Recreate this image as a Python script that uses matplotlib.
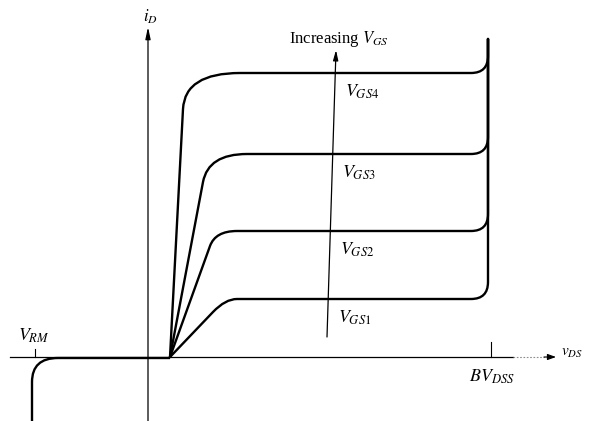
import matplotlib
matplotlib.use('Agg')
import matplotlib.pyplot as plt
from matplotlib.path import Path
from matplotlib.patches import PathPatch

plt.rcParams['mathtext.fontset'] = 'stix'
plt.rcParams['font.family'] = ['Liberation Serif', 'DejaVu Serif']

# output curves, VGS1 .. VGS4 (v = drain voltage, i = drain current, arbitrary units)
gate_labels = ['$V_{GS1}$', '$V_{GS2}$', '$V_{GS3}$', '$V_{GS4}$']
v_on = 22                        # where all curves leave the axis
ramp_v = [65, 62, 55, 35]        # end of ohmic ramp
ramp_i = [45, 111, 175, 248]
sat_i = [58, 126, 203, 284]      # saturation current levels
flat_v = [89, 89, 99, 92]        # start of flat part
v_bd = 340                       # BV_DSS
i_top = 318
bend = 17

# reverse blocking branch
v_rm = -113
rev_v = [-90, -116]
rev_i = [-1, -70]

fig, ax = plt.subplots(figsize=(5.9, 4.21), dpi=100)
ax.set_position([0, 0, 1, 1])
ax.set_xlim(-148, 442)
ax.set_ylim(-64, 357)
ax.axis('off')

# axes
ax.plot([-138, 365], [0, 0], color='k', lw=0.9)
ax.plot([365, 400], [0, 0], color='0.55', lw=0.8, ls=(0, (1.5, 1.5)))
ax.annotate('', xy=(408, 0), xytext=(396, 0),
            arrowprops=dict(arrowstyle='-|>,head_length=0.5,head_width=0.18',
                            color='k', lw=0.8, shrinkA=0, shrinkB=0))
ax.annotate('', xy=(0, 330), xytext=(0, -64),
            arrowprops=dict(arrowstyle='-|>,head_length=0.7,head_width=0.15',
                            color='k', lw=0.9, shrinkA=0, shrinkB=0))

# ticks on v axis
ax.plot([v_rm, v_rm], [0, 8], color='k', lw=0.8)
ax.plot([v_bd + 3, v_bd + 3], [0, 15], color='k', lw=0.8)

# output characteristic curves
for k in range(4):
    slope = (ramp_v[k] - v_on) / ramp_i[k]
    v_ctrl = v_on + slope * sat_i[k]
    verts = [(v_on, 0), (ramp_v[k], ramp_i[k]),
             (v_ctrl, sat_i[k]), (flat_v[k], sat_i[k]),
             (v_bd - bend, sat_i[k]),
             (v_bd, sat_i[k]), (v_bd, sat_i[k] + bend),
             (v_bd, i_top)]
    codes = [Path.MOVETO, Path.LINETO,
             Path.CURVE3, Path.CURVE3,
             Path.LINETO,
             Path.CURVE3, Path.CURVE3,
             Path.LINETO]
    ax.add_patch(PathPatch(Path(verts, codes), fill=False, ec='k', lw=1.7,
                           capstyle='round', joinstyle='round'))

# reverse branch
verts = [(v_on, -1), (rev_v[0], rev_i[0]),
         (rev_v[1], rev_i[0]), (rev_v[1], rev_i[0] - 24),
         (rev_v[1], rev_i[1])]
codes = [Path.MOVETO, Path.LINETO, Path.CURVE3, Path.CURVE3, Path.LINETO]
ax.add_patch(PathPatch(Path(verts, codes), fill=False, ec='k', lw=1.7))

# increasing VGS arrow
arrow_v = (179, 188)
arrow_i = (20, 307)
ax.annotate('', xy=(arrow_v[1], arrow_i[1]), xytext=(arrow_v[0], arrow_i[0]),
            arrowprops=dict(arrowstyle='-|>,head_length=0.6,head_width=0.15',
                            color='k', lw=0.9, shrinkA=0, shrinkB=0))
ax.text(191, 318, 'Increasing $V_{GS}$', fontsize=12, ha='center', va='center')

for k in range(4):
    yi = sat_i[k] - 19
    xa = arrow_v[0] + (arrow_v[1] - arrow_v[0]) * (yi - arrow_i[0]) / (arrow_i[1] - arrow_i[0])
    ax.text(xa + 10, yi, gate_labels[k], fontsize=13, ha='left', va='center')

ax.text(2, 340, '$i_D$', fontsize=12, ha='center', va='center')
ax.text(v_rm - 1, 21, '$V_{RM}$', fontsize=13, ha='center', va='center')
ax.text(v_bd + 4, -20, '$BV_{DSS}$', fontsize=13, ha='center', va='center')
ax.text(413, 4, '$v_{DS}$', fontsize=11, ha='left', va='center')

fig.savefig('out.png', dpi=100, facecolor='white')
